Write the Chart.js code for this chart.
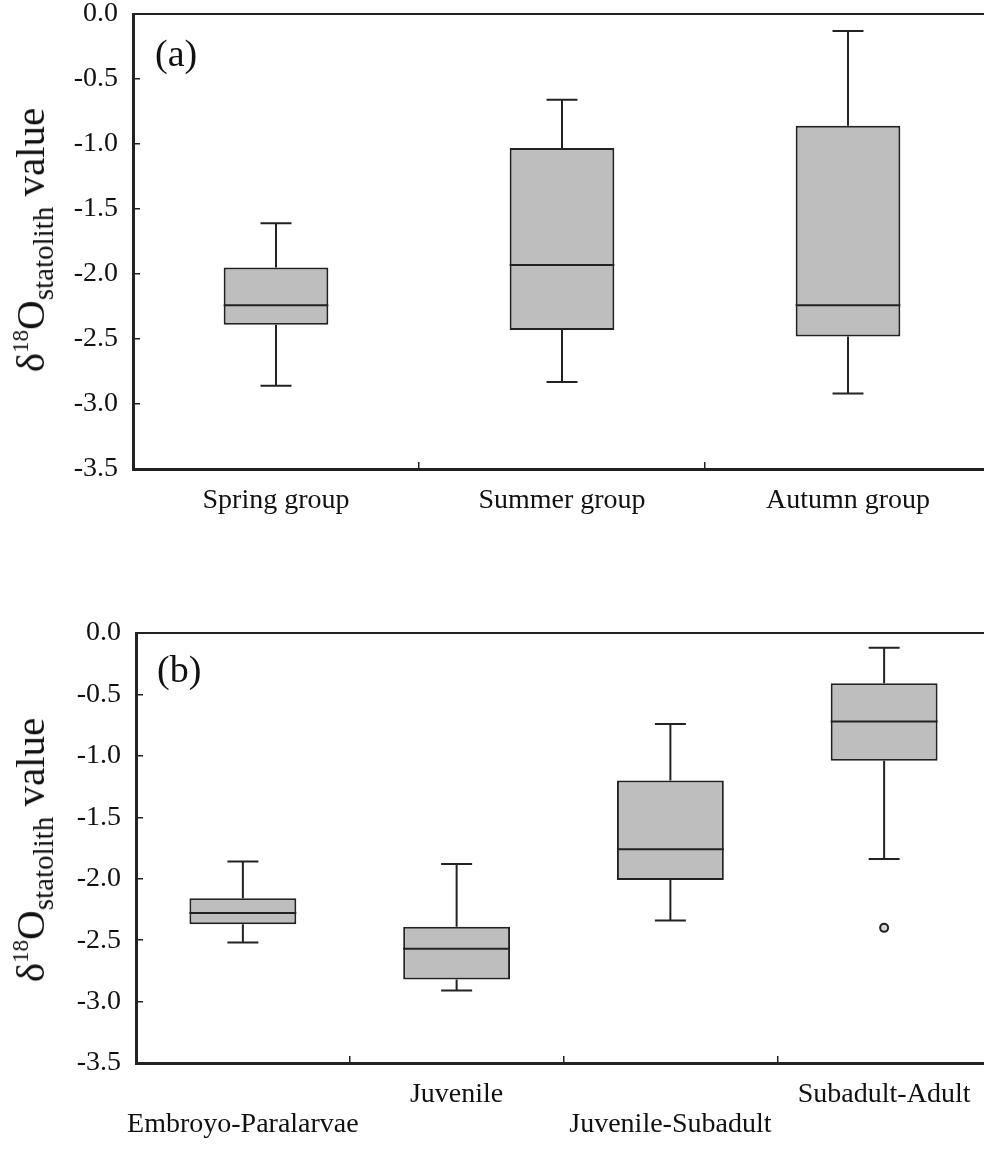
<!DOCTYPE html>
<html>
<head>
<meta charset="utf-8">
<script src="https://cdn.jsdelivr.net/npm/chart.js@4/dist/chart.umd.min.js"></script>
<style>
  body { margin: 0; background: #fff; overflow: hidden; width: 984px; height: 1169px; position: relative; }
  .wrap { position: absolute; left: 0; }
  .ytitle {
    position: absolute; white-space: nowrap; font-family: 'Liberation Serif', serif;
    font-size: 41px; color: #111; transform: translate(-50%, -50%) rotate(-90deg);
  }
  .ytitle sup { font-size: 23px; vertical-align: 16px; }
  .ytitle sub { font-size: 29px; vertical-align: -9px; }
  .panel { position: absolute; font-family: 'Liberation Serif', serif; font-size: 38px; color: #111; }
</style>
</head>
<body>
<div class="wrap" style="top:0"><canvas id="chartA" width="1000" height="545"></canvas></div>
<div class="wrap" style="top:619px"><canvas id="chartB" width="1000" height="550"></canvas></div>
<div class="ytitle" style="left:33px;top:240px">&delta;<sup>18</sup>O<sub>statolith</sub> value</div>
<div class="ytitle" style="left:33px;top:850px">&delta;<sup>18</sup>O<sub>statolith</sub> value</div>
<div class="panel" style="left:155px;top:31px">(a)</div>
<div class="panel" style="left:157px;top:647px">(b)</div>
<script>
// panel (a): seasonal groups
const groupsA = ['Spring group', 'Summer group', 'Autumn group'];
const minA = [-2.86, -2.83, -2.92];
const q1A  = [-2.39, -2.43, -2.48];
const medA = [-2.24, -1.93, -2.24];
const q3A  = [-1.95, -1.03, -0.86];
const maxA = [-1.61, -0.66, -0.13];

// panel (b): life stages (labels staggered on two lines)
const stagesB = [['', 'Embroyo-Paralarvae'], ['Juvenile', ''], ['', 'Juvenile-Subadult'], ['Subadult-Adult', '']];
const minB = [-2.52, -2.91, -2.34, -1.84];
const q1B  = [-2.37, -2.82, -2.01, -1.04];
const medB = [-2.28, -2.57, -1.76, -0.72];
const q3B  = [-2.16, -2.39, -1.20, -0.41];
const maxB = [-1.86, -1.88, -0.74, -0.12];
const outlierB = [null, null, null, -2.40];

const yMin = -3.5, yMax = 0, yStep = 0.5;

const ink = '#222';
const font = { family: "'Liberation Serif', serif", size: 28, lineHeight: 1.07 };

// whiskers, caps and median line for each box
const boxWhiskers = {
  id: 'boxWhiskers',
  afterDatasetsDraw(chart) {
    const ds = chart.data.datasets[0];
    const y = chart.scales.y;
    const ctx = chart.ctx;
    ctx.save();
    ctx.strokeStyle = ink;
    ctx.lineWidth = 2;
    chart.getDatasetMeta(0).data.forEach((bar, i) => {
      const cx = bar.x, hw = bar.width / 2, cap = 15.5;
      const yLo = y.getPixelForValue(ds.mins[i]);
      const yQ1 = y.getPixelForValue(ds.data[i][0]);
      const yQ3 = y.getPixelForValue(ds.data[i][1]);
      const yHi = y.getPixelForValue(ds.maxs[i]);
      const yMd = y.getPixelForValue(ds.meds[i]);
      ctx.beginPath();
      ctx.moveTo(cx, yQ1); ctx.lineTo(cx, yLo);
      ctx.moveTo(cx - cap, yLo); ctx.lineTo(cx + cap, yLo);
      ctx.moveTo(cx, yQ3); ctx.lineTo(cx, yHi);
      ctx.moveTo(cx - cap, yHi); ctx.lineTo(cx + cap, yHi);
      ctx.moveTo(cx - hw, yMd); ctx.lineTo(cx + hw, yMd);
      ctx.stroke();
    });
    ctx.restore();
  }
};

// top frame line
const topFrame = {
  id: 'topFrame',
  afterDraw(chart) {
    const { ctx, chartArea } = chart;
    ctx.save();
    ctx.strokeStyle = ink;
    ctx.lineWidth = 2;
    ctx.beginPath();
    ctx.moveTo(chartArea.left, chartArea.top);
    ctx.lineTo(chartArea.right, chartArea.top);
    ctx.stroke();
    ctx.restore();
  }
};

function makeChart(id, labels, mins, q1, meds, q3, maxs, barPct, axisW, xAxisH, extra) {
  const datasets = [{
    type: 'bar',
    data: labels.map((_, i) => [q1[i], q3[i]]),
    mins: mins, meds: meds, maxs: maxs,
    backgroundColor: '#bebebe',
    borderColor: ink,
    borderWidth: 2,
    borderSkipped: false,
    categoryPercentage: 1,
    barPercentage: barPct
  }].concat(extra || []);

  return new Chart(document.getElementById(id), {
    type: 'bar',
    data: { labels: labels, datasets: datasets },
    options: {
      responsive: false,
      animation: false,
      layout: { padding: { top: 14, right: 9, left: 0, bottom: 0 } },
      plugins: { legend: { display: false }, tooltip: { enabled: false } },
      scales: {
        x: {
          border: { display: true, color: ink, width: 3 },
          grid: { drawOnChartArea: false, drawTicks: true, tickLength: -7, color: ink, lineWidth: 1.5 },
          ticks: { color: '#111', font: font, padding: 24, autoSkip: false, maxRotation: 0, minRotation: 0 },
          afterFit: s => { s.height = xAxisH; }
        },
        y: {
          min: yMin, max: yMax,
          border: { display: true, color: ink, width: 3 },
          grid: { drawOnChartArea: false, drawTicks: true, tickLength: -7, color: ink, lineWidth: 1.5 },
          ticks: {
            stepSize: yStep, color: '#111', font: { family: font.family, size: 28, lineHeight: 1 }, padding: 22,
            callback: v => Number(v).toFixed(1)
          },
          afterFit: s => { s.width = axisW; s.paddingTop = 0; s.paddingBottom = 0; }
        }
      }
    },
    plugins: [boxWhiskers, topFrame]
  });
}

makeChart('chartA', groupsA, minA, q1A, medA, q3A, maxA, 0.366, 133, 545 - 469);

makeChart('chartB', stagesB, minB, q1B, medB, q3B, maxB, 0.5, 136, 550 - 444, [{
  type: 'line',
  data: outlierB,
  showLine: false,
  pointRadius: 4,
  pointBackgroundColor: '#d8d8d8',
  pointBorderColor: ink,
  pointBorderWidth: 2
}]);
</script>
</body>
</html>
